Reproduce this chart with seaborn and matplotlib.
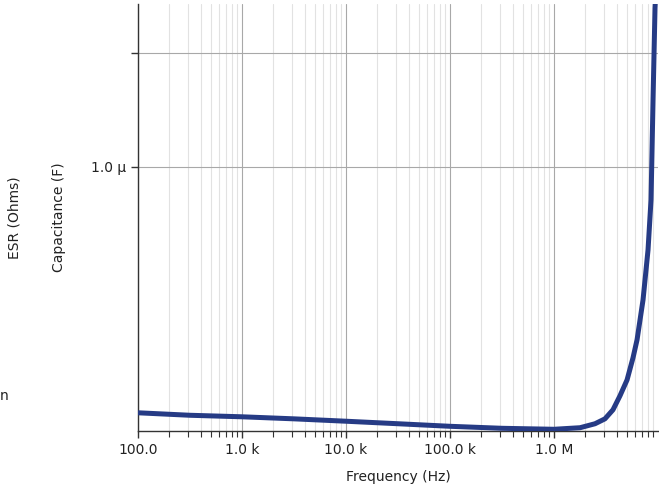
import matplotlib
matplotlib.use("Agg")
import matplotlib.pyplot as plt
import matplotlib.ticker as mticker
import seaborn as sns
import pandas as pd
import numpy as np

# Data (frequency in Hz, capacitance in F)
frequency = [100, 316, 1e3, 3.16e3, 1e4, 3.16e4, 1e5, 3.16e5, 1e6, 1.78e6, 2.48e6,
             3.09e6, 3.69e6, 4.31e6, 5.04e6, 5.75e6, 6.29e6, 7.18e6, 8.02e6, 8.57e6,
             8.96e6, 9.36e6, 9.6e6]
capacitance = [6.95e-9, 6.61e-9, 6.41e-9, 6.15e-9, 5.86e-9, 5.57e-9, 5.29e-9, 5.08e-9,
               4.98e-9, 5.14e-9, 5.57e-9, 6.15e-9, 7.38e-9, 9.8e-9, 1.35e-8, 2.11e-8,
               3.04e-8, 6.81e-8, 1.87e-7, 5.14e-7, 3.87e-6, 2.48e-5, 4.0e-5]

x_ticks = [1e2, 1e3, 1e4, 1e5, 1e6]
x_tick_labels = ["100.0", "1.0 k", "10.0 k", "100.0 k", "1.0 M"]
y_ticks = [1e-6, 1e-5]
y_tick_labels = ["1.0 μ", ""]

sns.set_style("white")
plt.rcParams["font.family"] = ["DejaVu Sans"]

df = pd.DataFrame({"Frequency (Hz)": frequency, "Capacitance (F)": capacitance})

fig = plt.figure(figsize=(6.59, 4.90), dpi=100)
ax = fig.add_axes([138 / 659, 59 / 490, 520 / 659, 427 / 490])

sns.lineplot(data=df, x="Frequency (Hz)", y="Capacitance (F)", ax=ax,
             color="#263b85", linewidth=3.6, zorder=3)

ax.set_xscale("log")
ax.set_yscale("log")
ax.set_xlim(1e2, 1e7)
ax.set_ylim(4.81e-9, 2.69e-5)

ax.set_xticks(x_ticks)
ax.set_xticklabels(x_tick_labels, fontsize=10, color="#222222")
ax.xaxis.set_minor_locator(mticker.LogLocator(base=10, subs=np.arange(2, 10)))
ax.xaxis.set_minor_formatter(mticker.NullFormatter())
ax.set_yticks(y_ticks)
ax.set_yticklabels(y_tick_labels, fontsize=10, color="#222222")
ax.yaxis.set_minor_locator(mticker.NullLocator())

ax.grid(True, which="major", axis="both", color="#a8a8a8", linewidth=0.8)
ax.grid(True, which="minor", axis="x", color="#e2e2e2", linewidth=0.8)
ax.set_axisbelow(True)

ax.tick_params(axis="both", which="major", length=5, width=1, color="#333333",
               direction="out", bottom=True, left=True)
ax.tick_params(axis="x", which="minor", length=4, width=0.8, color="#333333",
               direction="out", bottom=True)

for side in ["top", "right"]:
    ax.spines[side].set_visible(False)
for side in ["left", "bottom"]:
    ax.spines[side].set_color("#333333")
    ax.spines[side].set_linewidth(1.0)

ax.set_xlabel("Frequency (Hz)", fontsize=10, color="#222222")
ax.xaxis.set_label_coords(0.5, -(470 - 431) / 427)
ax.set_ylabel("Capacitance (F)", fontsize=10, color="#222222")
ax.yaxis.set_label_coords((66 - 138) / 520, 0.5)

fig.text(15 / 659, 1 - 218 / 490, "ESR (Ohms)", rotation=90, ha="center",
         va="center", fontsize=10, color="#222222")
fig.text(0, 1 - 396 / 490, "n", ha="left", va="center",
         fontsize=10, color="#222222")

fig.savefig("out.png", dpi=100)
